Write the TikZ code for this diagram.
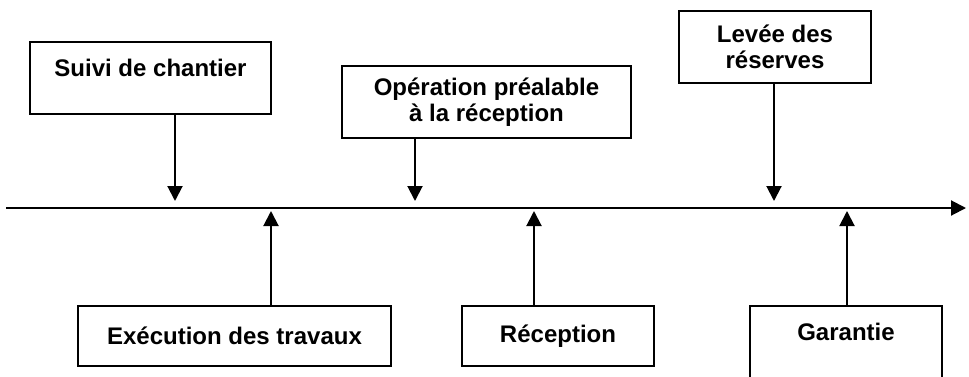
\documentclass[tikz,border=0pt]{standalone}
\usepackage{fontspec}
\setmainfont{Liberation Sans}
\usepackage{tikz}
\usetikzlibrary{arrows.meta}

\tikzset{
	etape/.style={shape=rectangle,draw=black,line width=1pt,align=center,inner sep=0pt,font=\fontsize{12}{13}\selectfont\bfseries},
	fleche/.style={line width=1pt,-{Triangle[width=7.5pt,length=7.5pt]}}
}

\begin{document}
\begin{tikzpicture}[x=0.5pt,y=-0.5pt]
	\useasboundingbox (0,0) rectangle (969,376);
	% axe du temps
	\coordinate (debut) at (6,208);
	\coordinate (fin) at (966,208);
	\draw[fleche] (debut) -- (fin);

	% etapes au-dessus de l'axe
	\node (suivi) at(150.5,78)[etape,minimum width=120.5pt,minimum height=36pt,text depth=10pt]{Suivi de chantier};
	\node (operation) at(486.5,102)[etape,minimum width=144.5pt,minimum height=36pt]{Opération préalable\\à la réception};
	\node (levee) at(775,47)[etape,minimum width=96pt,minimum height=36pt]{Levée des\\réserves};

	% etapes au-dessous de l'axe
	\node (execution) at(234.5,336)[etape,minimum width=156.5pt,minimum height=30pt]{Exécution des travaux};
	\node (reception) at(558,336)[etape,minimum width=96pt,minimum height=30pt]{Réception};
	\node (garantie) at(846,343)[etape,minimum width=96pt,minimum height=37pt,text depth=11pt]{Garantie};

	% pointes sur l'axe
	\foreach \nom/\x in {suivi/175,operation/415,levee/774}{
		\coordinate (p-\nom) at (\x,201);
		\draw[fleche] (\nom.south -| p-\nom) -- (p-\nom);
	}
	\foreach \nom/\x in {execution/271,reception/534,garantie/847}{
		\coordinate (p-\nom) at (\x,211);
		\draw[fleche] (\nom.north -| p-\nom) -- (p-\nom);
	}
\end{tikzpicture}
\end{document}
